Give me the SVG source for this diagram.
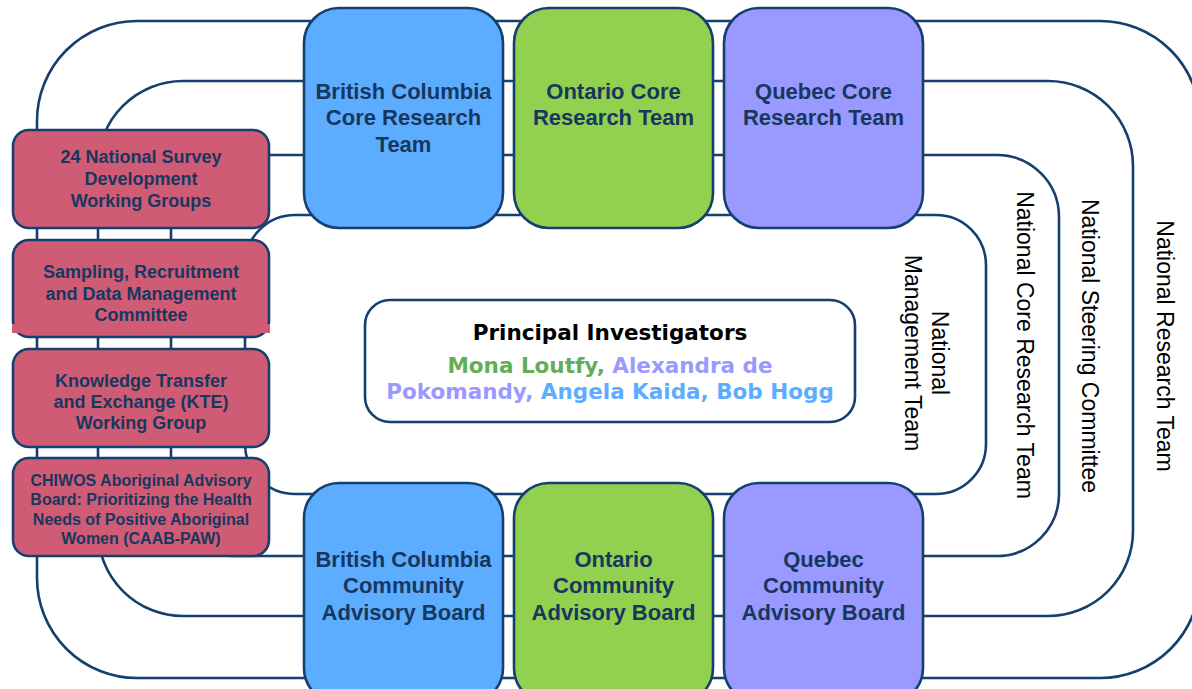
<svg xmlns="http://www.w3.org/2000/svg" width="1192" height="689" viewBox="0 0 1192 689">
<style>
.loop{fill:none;stroke:#153F6D;stroke-width:2.6}
.box{stroke:#153F6D;stroke-width:2.6}
.bc{fill:#5CADFF}
.on{fill:#92D050}
.qc{fill:#9999FF}
.pk{fill:#D05B75}
.bt{font-family:"Liberation Sans",Arial,sans-serif;font-weight:bold;font-size:22px;fill:#17375E;text-anchor:middle}
.lt{font-family:"Liberation Sans",Arial,sans-serif;font-weight:bold;font-size:18px;fill:#17375E;text-anchor:middle}
.lt4{font-family:"Liberation Sans",Arial,sans-serif;font-weight:bold;font-size:16px;fill:#17375E;text-anchor:middle}
.vt{font-family:"Liberation Sans",Arial,sans-serif;font-size:23px;fill:#000;text-anchor:middle}
.pi{font-family:"DejaVu Sans",Verdana,sans-serif;font-weight:bold;font-size:21.5px;text-anchor:middle}
</style>
<rect width="1192" height="689" fill="#fff"/>
<g id="connectors">
<rect class="loop" x="37" y="21" width="1163" height="657" rx="100"/>
<rect class="loop" x="98" y="81" width="1035" height="535" rx="85"/>
<rect class="loop" x="171" y="155" width="888" height="401" rx="62"/>
<rect class="loop" x="245" y="215" width="741" height="279" rx="50"/>
</g>
<g id="label-research-team"><text class="vt" transform="translate(1157,346) rotate(90)">National Research Team</text></g>
<g id="label-steering"><text class="vt" transform="translate(1082,346) rotate(90)">National Steering Committee</text></g>
<g id="label-core"><text class="vt" transform="translate(1017,345) rotate(90)">National Core Research Team</text></g>
<g id="label-management"><text class="vt" transform="translate(932,353) rotate(90)">National</text><text class="vt" transform="translate(905,353) rotate(90)">Management Team</text></g>
<g id="bc-core"><rect class="box bc" x="304" y="8" width="199" height="220" rx="35"/><text class="bt" x="403.5" y="99">British Columbia</text><text class="bt" x="403.5" y="125">Core Research</text><text class="bt" x="403.5" y="152">Team</text></g>
<g id="on-core"><rect class="box on" x="514" y="8" width="199" height="220" rx="35"/><text class="bt" x="613.5" y="99">Ontario Core</text><text class="bt" x="613.5" y="125">Research Team</text></g>
<g id="qc-core"><rect class="box qc" x="724" y="8" width="199" height="220" rx="35"/><text class="bt" x="823.5" y="99">Quebec Core</text><text class="bt" x="823.5" y="125">Research Team</text></g>
<g id="bc-cab"><rect class="box bc" x="304" y="483" width="199" height="220" rx="35"/><text class="bt" x="403.5" y="567">British Columbia</text><text class="bt" x="403.5" y="593">Community</text><text class="bt" x="403.5" y="620">Advisory Board</text></g>
<g id="on-cab"><rect class="box on" x="514" y="483" width="199" height="220" rx="35"/><text class="bt" x="613.5" y="567">Ontario</text><text class="bt" x="613.5" y="593">Community</text><text class="bt" x="613.5" y="620">Advisory Board</text></g>
<g id="qc-cab"><rect class="box qc" x="724" y="483" width="199" height="220" rx="35"/><text class="bt" x="823.5" y="567">Quebec</text><text class="bt" x="823.5" y="593">Community</text><text class="bt" x="823.5" y="620">Advisory Board</text></g>
<g id="survey-groups"><rect class="box pk" x="13" y="130" width="256" height="98" rx="16"/><text class="lt" x="141" y="163">24 National Survey</text><text class="lt" x="141" y="185">Development</text><text class="lt" x="141" y="207">Working Groups</text></g>
<g id="sampling-committee"><rect class="box pk" x="13" y="240" width="256" height="97" rx="16"/><rect class="pk" x="12" y="324" width="258" height="9"/><text class="lt" x="141" y="278">Sampling, Recruitment</text><text class="lt" x="141" y="300">and Data Management</text><text class="lt" x="141" y="321">Committee</text></g>
<g id="kte-group"><rect class="box pk" x="13" y="349" width="256" height="98" rx="16"/><text class="lt" x="141" y="387">Knowledge Transfer</text><text class="lt" x="141" y="408">and Exchange (KTE)</text><text class="lt" x="141" y="429">Working Group</text></g>
<g id="caab-paw"><rect class="box pk" x="13" y="458" width="256" height="98" rx="16"/><text class="lt4" x="141" y="486">CHIWOS Aboriginal Advisory</text><text class="lt4" x="141" y="505">Board: Prioritizing the Health</text><text class="lt4" x="141" y="525">Needs of Positive Aboriginal</text><text class="lt4" x="141" y="544">Women (CAAB-PAW)</text></g>
<g id="principal-investigators"><rect x="365" y="300" width="490" height="122" rx="25" fill="#fff" stroke="#153F6D" stroke-width="2.6"/>
<text class="pi" x="610" y="340" fill="#000">Principal Investigators</text>
<text class="pi" x="610" y="373"><tspan fill="#63AE54">Mona Loutfy, </tspan><tspan fill="#9999FF">Alexandra de</tspan></text>
<text class="pi" x="610" y="399"><tspan fill="#9999FF">Pokomandy, </tspan><tspan fill="#5CADFF">Angela Kaida, Bob Hogg</tspan></text>
</g>
</svg>
